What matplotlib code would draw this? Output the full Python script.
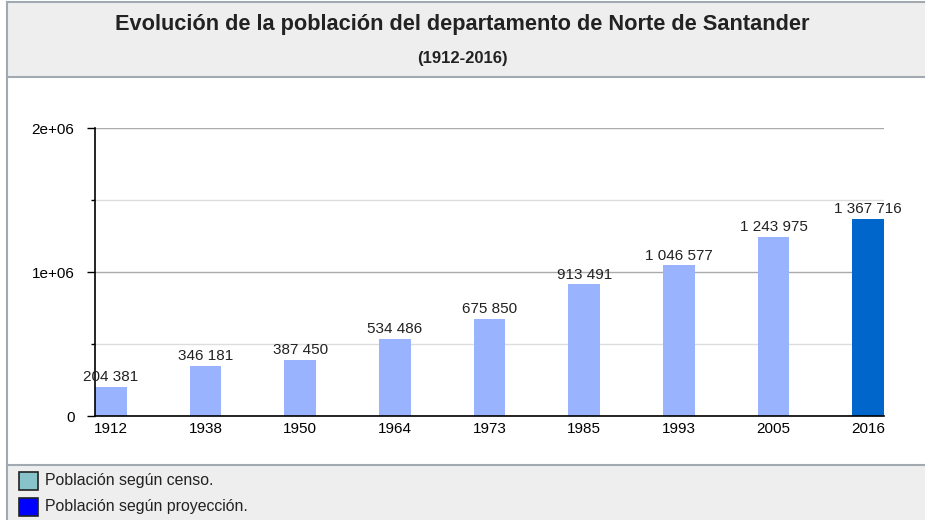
import matplotlib.pyplot as plt
from matplotlib.patches import Rectangle
from matplotlib.lines import Line2D

# datos del gráfico
anios = ['1912', '1938', '1950', '1964', '1973', '1985', '1993', '2005', '2016']
poblacion = [204381, 346181, 387450, 534486, 675850, 913491, 1046577, 1243975, 1367716]
etiquetas = ['204 381', '346 181', '387 450', '534 486', '675 850',
             '913 491', '1 046 577', '1 243 975', '1 367 716']
colores = ['#99b3ff'] * 8 + ['#0066cc']
leyenda = ['Población según censo.', 'Población según proyección.']
colores_leyenda = ['#88c3cc', '#0000ff']

plt.rcParams['font.family'] = ['Liberation Sans', 'DejaVu Sans']

W, H = 925, 520
fig = plt.figure(figsize=(W / 100, H / 100), dpi=100)
fig.patch.set_facecolor('white')

borde = '#a2a9b1'
# caja del título y de la leyenda
fig.patches.append(Rectangle((7 / W, 1 - 77 / H), 1, 75 / H, transform=fig.transFigure,
                             facecolor='#eeeeee', edgecolor='none', zorder=0))
fig.patches.append(Rectangle((7 / W, 0), 1, 1 - 465 / H, transform=fig.transFigure,
                             facecolor='#eeeeee', edgecolor='none', zorder=0))
for y in [2, 77, 465]:
    fig.lines.append(Line2D([7 / W, 1], [1 - y / H, 1 - y / H], transform=fig.transFigure,
                            color=borde, lw=1.5))
fig.lines.append(Line2D([7 / W, 7 / W], [0, 1 - 2 / H], transform=fig.transFigure,
                        color=borde, lw=1.5))

fig.text(0.5, 1 - 24.5 / H, 'Evolución de la población del departamento de Norte de Santander',
         ha='center', va='center', fontsize=15.7, fontweight='bold', color='#222222')
fig.text(0.5, 1 - 59 / H, '(1912-2016)', ha='center', va='center',
         fontsize=12, fontweight='bold', color='#222222')

# ejes
ax = fig.add_axes([95 / W, 1 - 416 / H, (884 - 95) / W, (416 - 128) / H])
x = list(range(len(anios)))
w = 0.335
ax.bar(x, poblacion, width=w, color=colores, zorder=2)
for xi, v, t in zip(x, poblacion, etiquetas):
    ax.annotate(t, (xi, v), xytext=(0, 2), textcoords='offset points',
                ha='center', va='bottom', fontsize=11, color='#222222')

ax.set_xlim(-w / 2, len(anios) - 1 + w / 2)
ax.set_ylim(0, 2000000)
ax.set_xticks(x)
ax.set_xticklabels(anios, fontsize=11)
ax.set_yticks([0, 1000000, 2000000])
ax.set_yticklabels(['0', '1e+06', '2e+06'], fontsize=11)
ax.set_yticks([500000, 1500000], minor=True)
ax.tick_params(axis='x', length=0, pad=4)
ax.tick_params(axis='y', which='major', length=5.8, width=1, pad=9)
ax.tick_params(axis='y', which='minor', length=3, width=1)
ax.grid(axis='y', which='major', color='#aaaaaa', lw=1, zorder=0)
ax.grid(axis='y', which='minor', color='#dddddd', lw=1, zorder=0)
for s in ['top', 'right']:
    ax.spines[s].set_visible(False)
ax.spines['left'].set_linewidth(1.2)
ax.spines['bottom'].set_linewidth(1.2)
ax.set_facecolor('none')

# leyenda
for i, (txt, c) in enumerate(zip(leyenda, colores_leyenda)):
    yc = 481 + i * 26
    fig.patches.append(Rectangle((19 / W, 1 - (yc + 9) / H), 19 / W, 18 / H,
                                 transform=fig.transFigure, facecolor=c,
                                 edgecolor='#222222', lw=1.2))
    fig.text(45 / W, 1 - yc / H, txt, ha='left', va='center', fontsize=11.4, color='#222222')

fig.savefig('out.png', dpi=100)
